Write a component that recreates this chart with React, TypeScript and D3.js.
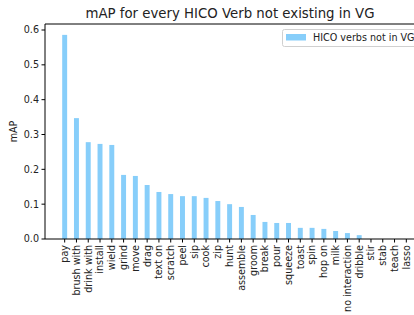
import React from "react";
import * as d3 from "d3";

const categories = ["pay","brush with","drink with","install","wield","grind","move","drag","text on","scratch","peel","sip","cook","zip","hunt","assemble","groom","break","pour","squeeze","toast","spin","hop on","milk","no interaction","dribble","stir","stab","teach","lasso"];
const values = [0.586,0.347,0.278,0.273,0.270,0.184,0.181,0.155,0.135,0.129,0.123,0.123,0.118,0.109,0.100,0.092,0.069,0.049,0.046,0.046,0.032,0.032,0.029,0.023,0.017,0.011,0,0,0,0];
const yTicks = [0, 0.1, 0.2, 0.3, 0.4, 0.5, 0.6];
const title = "mAP for every HICO Verb not existing in VG";
const legendLabel = "HICO verbs not in VG";

const W = 414, H = 315;
const left = 45, right = 426, top = 24, bottom = 239;
const font = "DejaVu Sans, sans-serif";
const fs = 9.6;

export default function App() {
  const x = d3.scaleLinear().domain([-1.67, 30.67]).range([left, right]);
  const y = d3.scaleLinear().domain([0, 0.6]).range([bottom, 30]);
  const bw = (x(1) - x(0)) * 0.42;
  return (
    <svg width={W} height={H} style={{ position: "absolute", left: 0, top: 0 }} fontFamily={font}>
      <rect width={W} height={H} fill="white" />
      {values.map((v, i) => (
        <rect key={i} x={x(i) - bw / 2} y={y(v)} width={bw} height={bottom - y(v)} fill="#87CEFA" />
      ))}
      <line x1={left} x2={right} y1={top} y2={top} stroke="black" strokeWidth={1} />
      <line x1={left} x2={right} y1={bottom} y2={bottom} stroke="black" strokeWidth={1} />
      <line x1={left} x2={left} y1={top} y2={bottom} stroke="black" strokeWidth={1} />
      {yTicks.map((t) => (
        <g key={t}>
          <line x1={left - 3.5} x2={left} y1={y(t)} y2={y(t)} stroke="black" />
          <text x={left - 6} y={y(t)} dy="0.35em" textAnchor="end" fontSize={fs} fill="#222">{t.toFixed(1)}</text>
        </g>
      ))}
      {categories.map((c, i) => (
        <g key={c}>
          <line x1={x(i)} x2={x(i)} y1={bottom} y2={bottom + 3.5} stroke="black" />
          <text transform={`translate(${x(i)},${bottom + 6}) rotate(-90)`} dy="0.35em" textAnchor="end" fontSize={fs} fill="#222">{c}</text>
        </g>
      ))}
      <text transform={`translate(14,${(top + bottom) / 2}) rotate(-90)`} dy="0.35em" textAnchor="middle" fontSize={fs} fill="#222">mAP</text>
      <text x={230} y={18} textAnchor="middle" fontSize={13.3} fill="#222">{title}</text>
      <rect x={282.5} y={29.5} width={150} height={17} rx={2} fill="white" fillOpacity={0.8} stroke="#d0d0d0" />
      <rect x={286} y={34} width={20} height={6.5} fill="#87CEFA" />
      <text x={313} y={37.5} dy="0.35em" fontSize={fs} fill="#222">{legendLabel}</text>
    </svg>
  );
}
